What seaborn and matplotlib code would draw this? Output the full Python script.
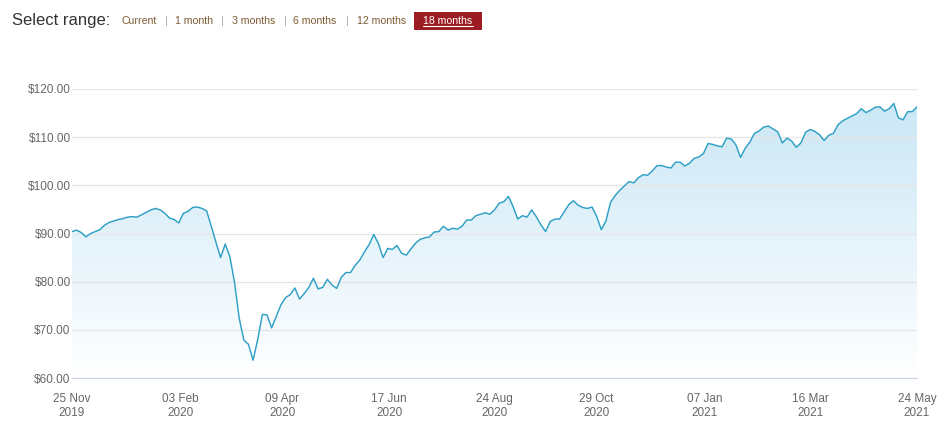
import numpy as np
import pandas as pd
import matplotlib
matplotlib.use("Agg")
import matplotlib.pyplot as plt
import matplotlib.dates as mdates
from matplotlib.colors import LinearSegmentedColormap
from matplotlib.lines import Line2D
from matplotlib.patches import Rectangle
import seaborn as sns

# data (one point every 3 days)
start_date = "2019-11-25"
end_date = "2021-05-24"
prices = [
    90.4, 90.7, 90.2, 89.3, 90.0, 90.4, 90.8, 91.7, 92.3, 92.6,
    92.9, 93.1, 93.4, 93.5, 93.4, 93.9, 94.4, 94.9, 95.2, 94.9,
    94.2, 93.2, 92.9, 92.2, 94.2, 94.6, 95.4, 95.5, 95.2, 94.7,
    91.5, 88.2, 85.0, 87.8, 85.2, 79.9, 72.5, 67.9, 67.0, 63.7,
    68.0, 73.2, 73.1, 70.4, 72.8, 75.2, 76.7, 77.3, 78.7, 76.4,
    77.5, 78.8, 80.7, 78.5, 78.8, 80.5, 79.3, 78.6, 80.9, 81.9,
    81.9, 83.4, 84.5, 86.2, 87.7, 89.8, 87.9, 85.0, 86.9, 86.7,
    87.5, 85.9, 85.5, 86.8, 88.0, 88.8, 89.1, 89.3, 90.3, 90.4,
    91.5, 90.7, 91.1, 90.9, 91.5, 92.8, 92.8, 93.7, 94.0, 94.3,
    94.0, 94.9, 96.3, 96.6, 97.7, 95.6, 93.0, 93.7, 93.4, 94.9,
    93.5, 91.8, 90.4, 92.5, 93.0, 93.0, 94.5, 96.0, 96.8, 95.9,
    95.4, 95.2, 95.5, 93.6, 90.8, 92.6, 96.5, 97.9, 99.0, 99.9,
    100.8, 100.5, 101.6, 102.2, 102.1, 103.0, 104.1, 104.1, 103.8, 103.6,
    104.8, 104.8, 104.0, 104.6, 105.6, 105.9, 106.6, 108.7, 108.5, 108.2,
    108.0, 109.8, 109.6, 108.4, 105.8, 107.7, 109.0, 110.8, 111.3, 112.1,
    112.3, 111.7, 111.1, 108.8, 109.8, 109.2, 107.9, 108.8, 111.0, 111.6,
    111.2, 110.5, 109.3, 110.4, 110.8, 112.6, 113.4, 113.9, 114.4, 114.9,
    115.9, 115.1, 115.6, 116.2, 116.3, 115.4, 115.9, 117.0, 114.0, 113.6,
    115.3, 115.3, 116.3,
]
tick_dates = ["2019-11-25", "2020-02-03", "2020-04-09", "2020-06-17", "2020-08-24",
              "2020-10-29", "2021-01-07", "2021-03-16", "2021-05-24"]
y_ticks = [60, 70, 80, 90, 100, 110, 120]
range_buttons = ["Current", "1 month", "3 months", "6 months", "12 months"]
active_button = "18 months"

dates = pd.date_range(start_date, end_date, freq="3D")
df = pd.DataFrame({"date": dates, "price": prices})

sns.set_style("white")
plt.rcParams['font.family'] = ['Liberation Sans', 'DejaVu Sans']

W, H = 950, 433
fig = plt.figure(figsize=(W / 100, H / 100), dpi=100)
ax = fig.add_axes([72 / W, 55 / H, 845 / W, 289 / H])

# line
sns.lineplot(data=df, x="date", y="price", color="#2fa0c6", linewidth=1.05, ax=ax, zorder=4)

# gradient area under the line
poly = ax.fill_between(df["date"], df["price"], y_ticks[0], facecolor="none", edgecolor="none")
x_num = mdates.date2num(df["date"])
cmap = LinearSegmentedColormap.from_list("fade", ["#ffffff", "#c8e6f5"])
grad = np.linspace(0, 1, 256).reshape(-1, 1)
im = ax.imshow(grad, extent=[x_num[0], x_num[-1], y_ticks[0], y_ticks[-1]],
               origin="lower", aspect="auto", cmap=cmap, zorder=1)
im.set_clip_path(poly.get_paths()[0], transform=ax.transData)

ax.set_xlim(x_num[0], x_num[-1])
ax.set_ylim(y_ticks[0], y_ticks[-1])

# axes styling
ax.set_axisbelow(False)
ax.yaxis.grid(True, color="#e6e6e6", linewidth=1, zorder=2)
ax.xaxis.grid(False)
for s in ["top", "left", "right"]:
    ax.spines[s].set_visible(False)
ax.spines["bottom"].set_color("#ccd6eb")
ax.spines["bottom"].set_zorder(3)

ax.set_yticks(y_ticks)
ax.set_yticklabels(["\\$" + f"{v:.2f}" for v in y_ticks])
ax.set_xticks(pd.to_datetime(tick_dates))
ax.xaxis.set_major_formatter(mdates.DateFormatter("%d %b\n%Y"))
ax.tick_params(axis="x", length=5, width=1, color="#ccd6eb", pad=6,
               labelsize=8.5, labelcolor="#666666")
ax.tick_params(axis="y", length=0, pad=1, labelsize=8.5, labelcolor="#666666")
ax.set_xlabel("")
ax.set_ylabel("")

# range selector header
def fy(py):
    return 1 - py / H

fig.text(12 / W, fy(20), "Select range:", fontsize=12, color="#333333", va="center", ha="left")
btn_x = [122, 175, 232, 293, 357]
sep_x = [166, 222, 285, 347]
for lbl, bx in zip(range_buttons, btn_x):
    fig.text(bx / W, fy(21), lbl, fontsize=7.6, color="#7d5a33", va="center", ha="left")
for sx in sep_x:
    fig.text(sx / W, fy(21), "|", fontsize=8, color="#aaaaaa", va="center", ha="center")

fig.patches.append(Rectangle((414 / W, fy(30)), 68 / W, 18 / H, transform=fig.transFigure,
                             facecolor="#9b1c22", edgecolor="none"))
fig.text(448 / W, fy(21), active_button, fontsize=7.6, color="white", va="center", ha="center")
fig.lines.append(Line2D([423 / W, 473 / W], [fy(26), fy(26)], transform=fig.transFigure,
                        color="white", linewidth=0.8))

fig.savefig("out.png", dpi=100, facecolor="white")
